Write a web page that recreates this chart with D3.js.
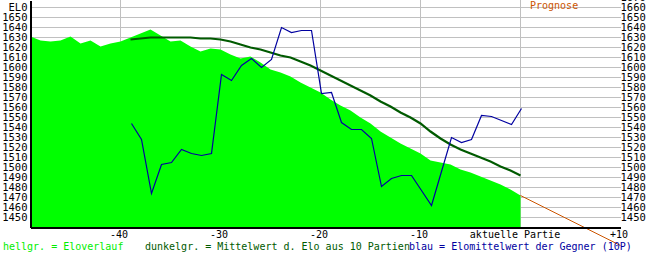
<!DOCTYPE html>
<html>
<head>
<meta charset="utf-8">
<script src="https://cdn.jsdelivr.net/npm/d3@7"></script>
<style>
  body { margin: 0; background: #fff; }
  svg { display: block; }
  text { font-family: "DejaVu Sans Mono", monospace; font-size: 10px; }
  .grid line { stroke: #c0c0c0; stroke-width: 1; shape-rendering: crispEdges; }
  .axis .domain { stroke: #000; stroke-width: 2; shape-rendering: crispEdges; }
  .axis text { fill: #000; font-size: 10.5px; }
  .axis-x text { font-size: 10px; }
</style>
</head>
<body>
<div id="chart"></div>
<script>
// Elo of the player, games -49 .. 0 (0 = aktuelle Partie)
const elo = [1631, 1627, 1626, 1627, 1631, 1624, 1627, 1621, 1624, 1626,
             1630, 1634, 1638, 1632, 1626, 1627, 1621, 1616, 1619, 1618,
             1613, 1609, 1611, 1605, 1598, 1595, 1591, 1585, 1580, 1575,
             1568, 1562, 1557, 1550, 1544, 1536, 1530, 1524, 1519, 1514,
             1507, 1505, 1503, 1498, 1495, 1491, 1487, 1483, 1478, 1472];
// mean Elo over 10 games, games -39 .. 0
const eloMean10 = [1628, 1629, 1630, 1630, 1630, 1630, 1630, 1629, 1629, 1628,
                   1626, 1623, 1620, 1618, 1615, 1612, 1610, 1606, 1602, 1597,
                   1592, 1587, 1582, 1577, 1572, 1566, 1561, 1555, 1550, 1544,
                   1536, 1529, 1523, 1518, 1514, 1510, 1506, 1501, 1497, 1492];
// opponents' mean Elo (10 games), games -39 .. 0
const oppMean = [1544, 1528, 1474, 1503, 1505, 1518, 1514, 1512, 1514, 1593,
                 1587, 1602, 1609, 1600, 1608, 1640, 1635, 1637, 1637, 1574,
                 1575, 1545, 1538, 1538, 1529, 1481, 1489, 1492, 1492, 1477,
                 1462, 1496, 1530, 1525, 1528, 1552, 1551, 1547, 1543, 1559];
// forecast: game 0 and game +10
const prognoseGames = [0, 10];
const prognose = [1472, 1422];

const xTicks = [-40, -30, -20, -10, 0, 10];
const yTicksLeft = [1450, 1460, 1470, 1480, 1490, 1500, 1510, 1520, 1530, 1540, 1550,
                    1560, 1570, 1580, 1590, 1600, 1610, 1620, 1630, 1640, 1650, 1660];
const yTicksRight = yTicksLeft.concat([1670]);

const legend = [
  { text: "hellgr. = Eloverlauf", color: "#00ee00", x: 3 },
  { text: "dunkelgr. = Mittelwert d. Elo aus 10 Partien", color: "#005a00", x: 145 },
  { text: "blau = Elomittelwert der Gegner (10P)", color: "#0000a0", x: 409 }
];

const width = 650, height = 253;

const x = d3.scaleLinear().domain([-49, 10]).range([30.5, 620.5]);
const y = d3.scaleLinear().domain([1440.5, 1667.5]).range([227, 0]);

// game number from array index (last entry = game 0)
const toPoints = arr => arr.map((v, i) => ({ g: i - (arr.length - 1), v: v }));

const svg = d3.select("#chart").append("svg")
  .attr("width", width)
  .attr("height", height);

// grid
const grid = svg.append("g").attr("class", "grid");
grid.selectAll(".h").data(yTicksLeft).enter().append("line")
  .attr("x1", x(-49)).attr("x2", x(10))
  .attr("y1", d => y(d)).attr("y2", d => y(d));
grid.selectAll(".v").data([-40, -30, -20, -10, 0]).enter().append("line")
  .attr("x1", d => x(d)).attr("x2", d => x(d))
  .attr("y1", 0).attr("y2", y(1440.5));

// Elo area
const area = d3.area()
  .x(d => x(d.g))
  .y0(y(1440.5))
  .y1(d => y(d.v));
svg.append("path")
  .datum(toPoints(elo))
  .attr("fill", "#00ff00")
  .attr("d", area);

const line = d3.line().x(d => x(d.g)).y(d => y(d.v));

svg.append("path")
  .datum(toPoints(eloMean10))
  .attr("fill", "none")
  .attr("stroke", "#005a00")
  .attr("stroke-width", 2.2)
  .attr("d", line);

svg.append("path")
  .datum(toPoints(oppMean).map(d => ({ g: d.g + 0.1, v: d.v })))
  .attr("fill", "none")
  .attr("stroke", "#0000a0")
  .attr("stroke-width", 1.2)
  .attr("d", line);

svg.append("path")
  .datum(prognoseGames.map((g, i) => ({ g: g, v: prognose[i] })))
  .attr("fill", "none")
  .attr("stroke", "#cc5500")
  .attr("stroke-width", 1)
  .attr("d", line);

svg.append("text")
  .attr("x", 530).attr("y", 9)
  .attr("fill", "#cc5500")
  .text("Prognose");

// axes
const yLeft = d3.axisLeft(y)
  .tickValues(yTicksLeft)
  .tickSize(0).tickPadding(2.5)
  .tickFormat(d => d === 1660 ? "EL0" : d);
svg.append("g").attr("class", "axis")
  .attr("transform", "translate(30,0)")
  .call(yLeft)
  .call(g => g.selectAll("text").attr("y", -0.8));

const yRight = d3.axisRight(y)
  .tickValues(yTicksRight)
  .tickSize(0).tickPadding(0.5)
  .tickFormat(d => d);
svg.append("g").attr("class", "axis")
  .attr("transform", "translate(620,0)")
  .call(yRight)
  .call(g => g.select(".domain").remove())
  .call(g => g.selectAll("text").attr("y", -0.8));

const xAxis = d3.axisBottom(x)
  .tickValues(xTicks)
  .tickSize(0).tickPadding(4)
  .tickFormat(d => d === 0 ? "aktuelle Partie" : (d > 0 ? "+" + d : "" + d));
svg.append("g").attr("class", "axis axis-x")
  .attr("transform", "translate(0,227)")
  .call(xAxis)
  .call(g => g.selectAll("text").attr("dx", d => d === 0 ? -6 : -2));

// legend
svg.selectAll(".legend").data(legend).enter().append("text")
  .attr("class", "legend")
  .attr("x", d => d.x)
  .attr("y", 249.5)
  .attr("fill", d => d.color)
  .text(d => d.text);
</script>
</body>
</html>
